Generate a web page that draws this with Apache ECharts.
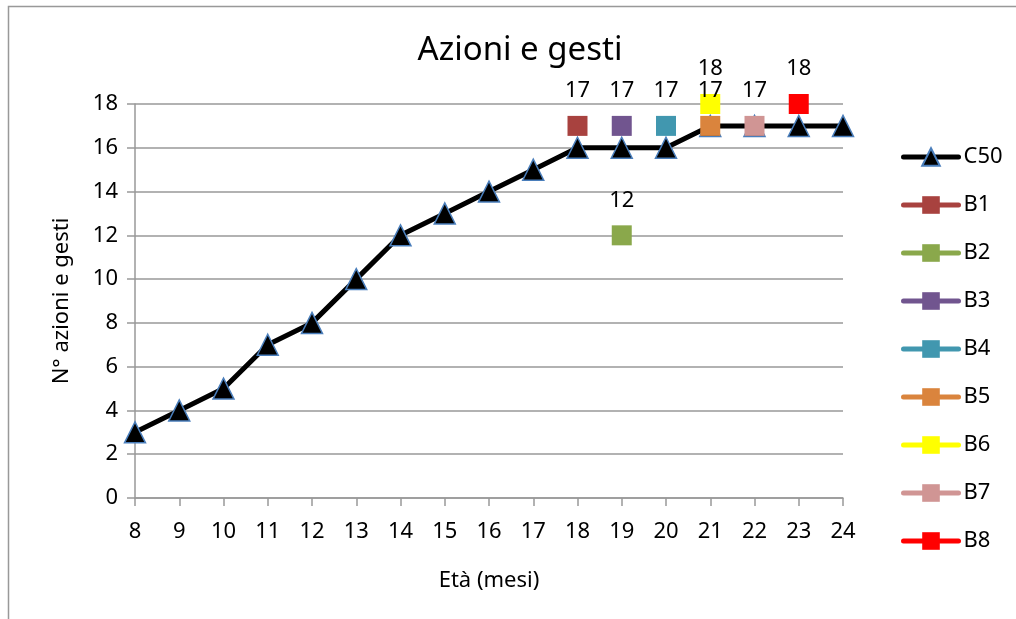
<!DOCTYPE html>
<html><head><meta charset="utf-8">
<script src="https://cdn.jsdelivr.net/npm/echarts@6/dist/echarts.min.js"></script>
<style>html,body{margin:0;padding:0;background:#fff}#c{width:1016px;height:619px}</style>
</head><body><div id="c"></div>
<script>
const months = ['8','9','10','11','12','13','14','15','16','17','18','19','20','21','22','23','24'];
const c50 = [3,4,5,7,8,10,12,13,14,15,16,16,16,17,17,17,17];
const b1 = [['18',17]];
const b2 = [['19',12]];
const b3 = [['19',17]];
const b4 = [['20',17]];
const b5 = [['21',17]];
const b6 = [['21',18]];
const b7 = [['22',17]];
const b8 = [['23',18]];
const bNames = ['B1','B2','B3','B4','B5','B6','B7','B8'];
const bData = [b1,b2,b3,b4,b5,b6,b7,b8];
const bColors = ['#A8423F','#8AA84B','#71558F','#4197AF','#DA843D','#FFFF00','#D09594','#FF0000'];
const yTicks = {min:0, max:18, interval:2};

const font = '"Noto Sans", "Open Sans", sans-serif';
const fs = 22;
const chart = echarts.init(document.getElementById('c'));
const series = [{
  name:'C50', type:'line', data:c50, symbol:'triangle', symbolSize:21,
  lineStyle:{color:'#000', width:5}, itemStyle:{color:'#000', borderColor:'#4A7EBB', borderWidth:1.5},
  z:2
}];
bNames.forEach((n,i)=>{
  series.push({
    name:n, type:'line', data:bData[i], symbol:'rect', symbolSize:20,
    lineStyle:{color:bColors[i], width:5}, itemStyle:{color:bColors[i]},
    label:{show:true, position:'top', distance:14, color:'#000', fontSize:fs, fontFamily:font},
    z:3
  });
});
chart.setOption({
  animation:false,
  textStyle:{fontFamily:font},
  graphic:[{type:'rect', shape:{x:8.5,y:6.5,width:1030,height:640}, style:{fill:'none', stroke:'#999', lineWidth:1.5}, silent:true}],
  title:{text:'Azioni e gesti', left:515, top:29, textAlign:'center', textStyle:{fontSize:33, fontWeight:'normal', color:'#000', fontFamily:font}},
  legend:{orient:'vertical', left:896, top:141, itemWidth:55, itemHeight:22, itemGap:26,
    lineStyle:{width:5, cap:'round'},
    textStyle:{fontSize:fs, color:'#000', fontFamily:font},
    data:['C50'].concat(bNames)},
  grid:{left:135, right:173, top:104, bottom:121},
  xAxis:{type:'category', data:months, boundaryGap:false,
    name:'Età (mesi)', nameLocation:'middle', nameGap:72, nameTextStyle:{fontSize:fs, color:'#000', fontFamily:font},
    axisLine:{lineStyle:{color:'#999', width:1.5}}, axisTick:{show:true, length:8, lineStyle:{color:'#999', width:1.5}},
    axisLabel:{fontSize:fs, color:'#000', margin:23, fontFamily:font}, splitLine:{show:false}},
  yAxis:{type:'value', min:yTicks.min, max:yTicks.max, interval:yTicks.interval,
    name:'N° azioni e gesti', nameLocation:'middle', nameGap:62, nameTextStyle:{fontSize:fs, color:'#000', fontFamily:font},
    axisLine:{show:true, lineStyle:{color:'#999', width:1.5}}, axisTick:{show:true, length:8, lineStyle:{color:'#999', width:1.5}},
    axisLabel:{fontSize:fs, color:'#000', margin:17, fontFamily:font},
    splitLine:{lineStyle:{color:'#999', width:1.5}}},
  series:series
});
</script></body></html>
